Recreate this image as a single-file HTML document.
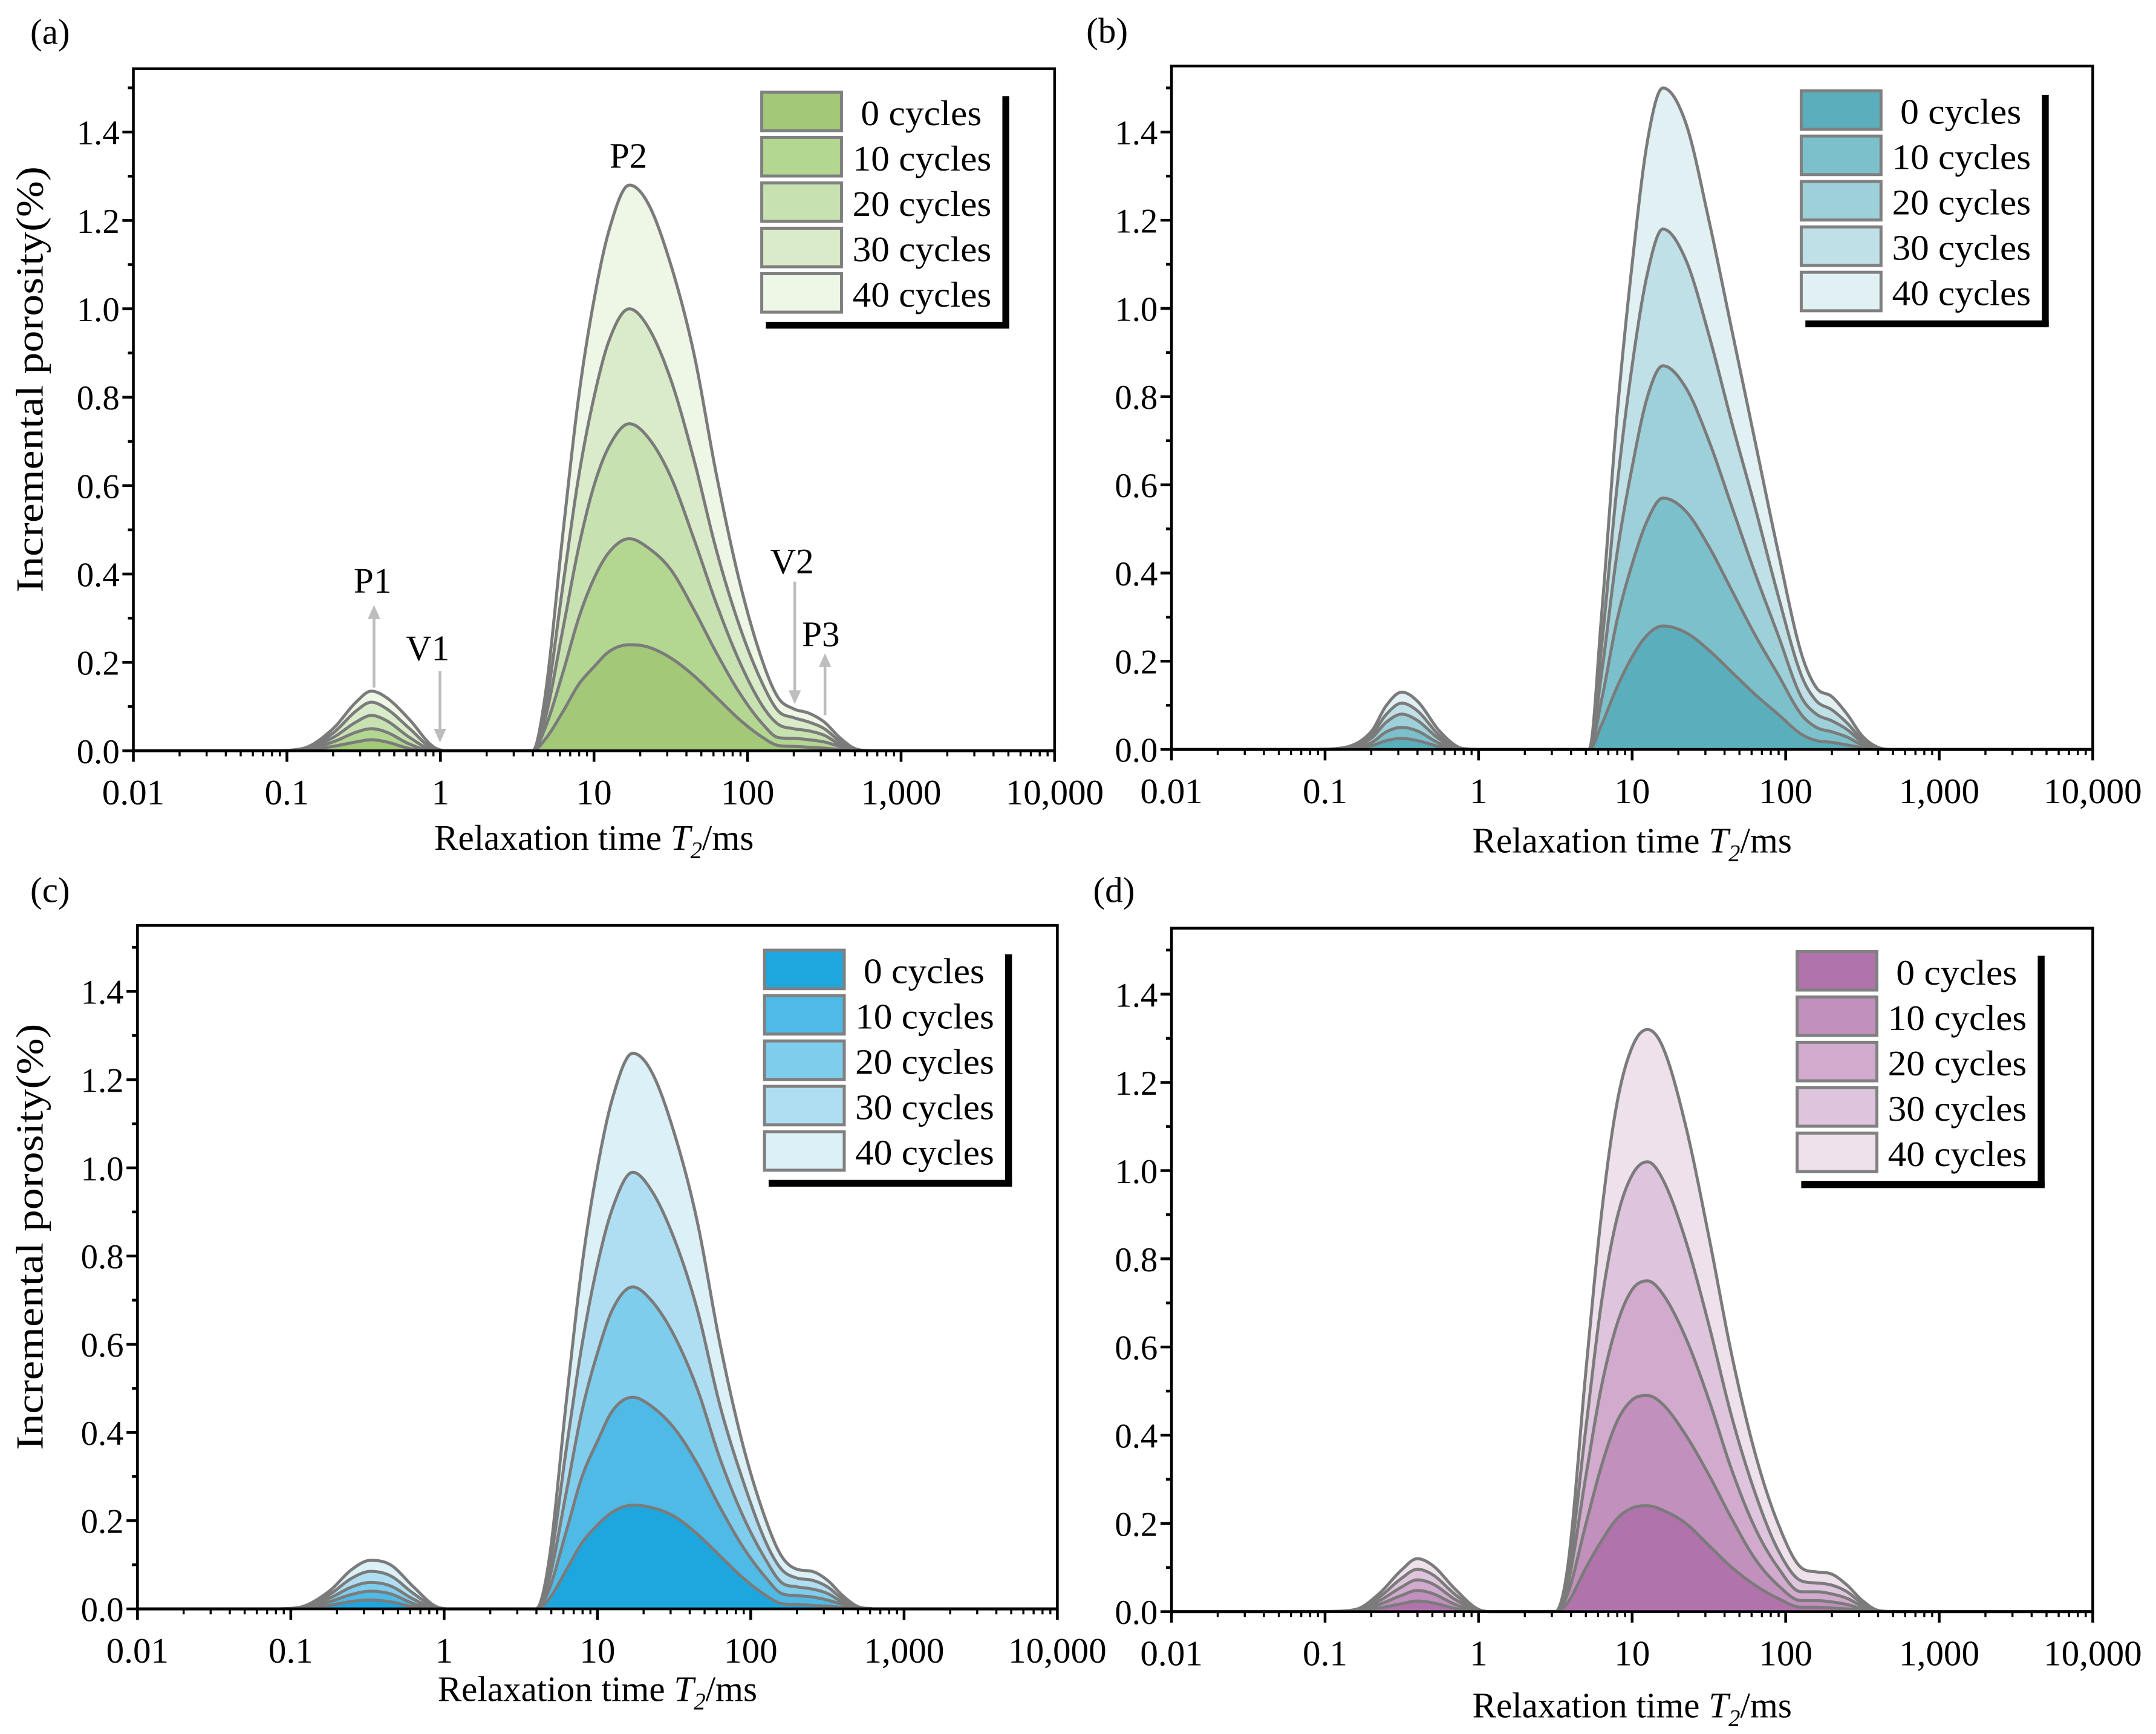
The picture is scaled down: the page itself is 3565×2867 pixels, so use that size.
<!DOCTYPE html>
<html><head><meta charset="utf-8">
<style>
html,body{margin:0;padding:0;background:#fff;}
svg{display:block;font-family:"Liberation Serif",serif;}
</style></head>
<body>
<svg id="fig" xmlns="http://www.w3.org/2000/svg" width="3565" height="2867" viewBox="0 0 1568 1261" preserveAspectRatio="none"></svg>
<script>
// ---- data (log10 of T2 in ms grid, incremental porosity %) ----
const gridP1A = [-1.1,-0.9,-0.7,-0.55,-0.45,-0.35,-0.2,-0.05,0.05];
const gridP2A = [0.6,0.68,0.8,0.9,1.0,1.1,1.23,1.35,1.5,1.65,1.8,1.95,2.1,2.2,2.3,2.4,2.5,2.6,2.7,2.8];
const a40 = [0,0.005,0.05,0.11,0.135,0.12,0.07,0.01,0, 0,0.12,0.5,0.8,1.02,1.18,1.28,1.24,1.1,0.9,0.62,0.38,0.2,0.12,0.095,0.085,0.065,0.03,0.005,0];
const a30 = [0,0.004,0.04,0.09,0.11,0.095,0.05,0.005,0, 0,0.09,0.38,0.62,0.8,0.93,1.0,0.96,0.84,0.66,0.45,0.28,0.15,0.09,0.075,0.065,0.05,0.022,0.004,0];
const a20 = [0,0.003,0.03,0.065,0.08,0.068,0.03,0.002,0, 0,0.07,0.28,0.46,0.6,0.69,0.74,0.71,0.62,0.48,0.33,0.2,0.1,0.06,0.05,0.045,0.035,0.015,0.003,0];
const a10 = [0,0.002,0.02,0.042,0.05,0.042,0.015,0,0, 0,0.05,0.18,0.3,0.39,0.45,0.48,0.46,0.41,0.32,0.22,0.13,0.06,0.03,0.028,0.025,0.02,0.01,0.002,0];
const a0  = [0,0.001,0.01,0.02,0.025,0.02,0.005,0,0, 0,0.025,0.09,0.15,0.19,0.225,0.24,0.235,0.21,0.17,0.12,0.07,0.03,0.012,0.01,0.008,0.006,0.003,0,0];

const gridP1B = [-1.1,-0.9,-0.7,-0.6,-0.5,-0.4,-0.25,-0.1,0.05];
const gridP2B = [0.6,0.72,0.8,0.9,1.0,1.1,1.2,1.35,1.5,1.65,1.8,1.95,2.1,2.2,2.3,2.4,2.5,2.6,2.7,2.8];
const b40 = [0,0.003,0.04,0.1,0.13,0.11,0.04,0.002,0, 0,0,0.3,0.75,1.1,1.38,1.5,1.42,1.2,0.95,0.7,0.45,0.22,0.14,0.12,0.08,0.03,0.005,0,0];
const b30 = [0,0.002,0.032,0.08,0.105,0.088,0.03,0.001,0, 0,0,0.23,0.59,0.87,1.08,1.18,1.11,0.94,0.74,0.55,0.35,0.17,0.11,0.09,0.06,0.022,0.004,0,0];
const b20 = [0,0.002,0.025,0.062,0.08,0.066,0.022,0,0, 0,0,0.17,0.44,0.64,0.8,0.87,0.82,0.7,0.55,0.4,0.26,0.12,0.08,0.065,0.045,0.016,0.003,0,0];
const b10 = [0,0.001,0.015,0.04,0.05,0.042,0.013,0,0, 0,0,0.11,0.29,0.42,0.52,0.57,0.54,0.46,0.36,0.26,0.17,0.08,0.05,0.04,0.028,0.01,0.002,0,0];
const b0  = [0,0,0.008,0.02,0.025,0.02,0.006,0,0, 0,0,0.055,0.14,0.21,0.26,0.28,0.265,0.225,0.175,0.125,0.08,0.035,0.02,0.016,0.01,0.004,0,0,0];

const gridP1C = [-1.1,-0.95,-0.75,-0.6,-0.48,-0.35,-0.2,-0.05,0.05];
const gridP2C = [0.6,0.68,0.8,0.9,1.0,1.1,1.23,1.35,1.5,1.65,1.8,1.95,2.1,2.2,2.3,2.4,2.5,2.6,2.7,2.8];
const c40 = [0,0.003,0.04,0.09,0.11,0.1,0.05,0.005,0, 0,0.1,0.48,0.78,1.0,1.16,1.26,1.22,1.08,0.88,0.6,0.37,0.2,0.12,0.09,0.085,0.065,0.03,0.005,0];
const c30 = [0,0.002,0.032,0.07,0.085,0.075,0.035,0.003,0, 0,0.08,0.37,0.6,0.78,0.91,0.99,0.95,0.84,0.68,0.46,0.29,0.15,0.09,0.07,0.065,0.05,0.022,0.004,0];
const c20 = [0,0.002,0.024,0.05,0.06,0.052,0.022,0.001,0, 0,0.06,0.27,0.45,0.58,0.68,0.73,0.7,0.62,0.5,0.34,0.21,0.11,0.06,0.05,0.045,0.035,0.015,0.003,0];
const c10 = [0,0.001,0.016,0.033,0.04,0.034,0.012,0,0, 0,0.04,0.18,0.3,0.38,0.45,0.48,0.46,0.41,0.33,0.23,0.14,0.07,0.035,0.03,0.027,0.02,0.01,0.002,0];
const c0  = [0,0.001,0.008,0.017,0.02,0.016,0.005,0,0, 0,0.02,0.09,0.15,0.19,0.22,0.235,0.23,0.21,0.17,0.12,0.07,0.03,0.012,0.01,0.008,0.006,0.003,0,0];

const gridP1D = [-1.0,-0.8,-0.65,-0.5,-0.4,-0.3,-0.15,0,0.1];
const gridP2D = [0.5,0.58,0.7,0.8,0.9,1.0,1.1,1.2,1.35,1.5,1.65,1.8,1.95,2.1,2.2,2.3,2.4,2.5,2.6,2.7];
const d40 = [0,0.005,0.04,0.095,0.12,0.105,0.05,0.005,0, 0,0.1,0.55,0.9,1.15,1.28,1.32,1.28,1.1,0.85,0.58,0.36,0.2,0.1,0.09,0.085,0.06,0.025,0.003,0];
const d30 = [0,0.004,0.032,0.076,0.096,0.084,0.038,0.003,0, 0,0.08,0.42,0.7,0.89,0.99,1.02,0.98,0.84,0.65,0.44,0.27,0.14,0.07,0.065,0.06,0.045,0.018,0.002,0];
const d20 = [0,0.003,0.024,0.056,0.072,0.063,0.027,0.002,0, 0,0.06,0.31,0.51,0.65,0.73,0.75,0.72,0.62,0.48,0.32,0.19,0.1,0.045,0.045,0.04,0.03,0.012,0.001,0];
const d10 = [0,0.002,0.016,0.037,0.048,0.041,0.016,0.001,0, 0,0.04,0.2,0.33,0.43,0.48,0.49,0.47,0.4,0.31,0.21,0.12,0.06,0.025,0.025,0.022,0.016,0.006,0,0];
const d0  = [0,0.001,0.008,0.018,0.024,0.02,0.007,0,0, 0,0.02,0.1,0.16,0.21,0.235,0.24,0.23,0.2,0.15,0.1,0.06,0.03,0.01,0.01,0.008,0.006,0.002,0,0];

const legendLabels = ["0 cycles","10 cycles","20 cycles","30 cycles","40 cycles"];
const xTickLabels = ["0.01","0.1","1","10","100","1,000","10,000"];
const yTickLabels = ["0.0","0.2","0.4","0.6","0.8","1.0","1.2","1.4"];

const NS = "http://www.w3.org/2000/svg";
const svg = document.getElementById('fig');
function mk(tag, attrs, parent){
  const e = document.createElementNS(NS, tag);
  for (const k in attrs) e.setAttribute(k, attrs[k]);
  (parent||svg).appendChild(e);
  return e;
}
function monotone(xs, ys, n){
  const m = xs.length, d = [], t = [];
  for (let i=0;i<m-1;i++) d.push((ys[i+1]-ys[i])/(xs[i+1]-xs[i]));
  t[0]=d[0]; t[m-1]=d[m-2];
  for (let i=1;i<m-1;i++){ t[i] = (d[i-1]*d[i]<=0)?0:(d[i-1]+d[i])/2; }
  for (let i=0;i<m-1;i++){
    if (d[i]===0){t[i]=0;t[i+1]=0;continue;}
    const a=t[i]/d[i], b=t[i+1]/d[i], s=a*a+b*b;
    if (s>9){const tau=3/Math.sqrt(s); t[i]=tau*a*d[i]; t[i+1]=tau*b*d[i];}
  }
  const out=[];
  for (let i=0;i<m-1;i++){
    const h=xs[i+1]-xs[i];
    for (let k=0;k<n;k++){
      const u=k/n, h00=2*u*u*u-3*u*u+1, h10=u*u*u-2*u*u+u, h01=-2*u*u*u+3*u*u, h11=u*u*u-u*u;
      out.push([xs[i]+u*h, Math.max(0,h00*ys[i]+h10*h*t[i]+h01*ys[i+1]+h11*h*t[i+1])]);
    }
  }
  out.push([xs[m-1], ys[m-1]]);
  return out;
}

const panels = [
  {id:"a", L:97, R:767, y0:546, y14:96, top:50, grid1:gridP1A, grid2:gridP2A, series:[a0,a10,a20,a30,a40],
   colors:["#a2c878","#b3d691","#c7e2b0","#d9ebc8","#eef6e5"], lgX:553, lgY:66, ylabel:true, xtitleY:618, label:[22,32]},
  {id:"b", L:852, R:1522, y0:545, y14:96, top:48, grid1:gridP1B, grid2:gridP2B, series:[b0,b10,b20,b30,b40],
   colors:["#5bafbc","#7cc0cb","#9dd0d9","#bfe0e6","#e0f0f3"], lgX:1309, lgY:65, ylabel:false, xtitleY:620, label:[790,31]},
  {id:"c", L:100, R:769, y0:1170, y14:721, top:673, grid1:gridP1C, grid2:gridP2C, series:[c0,c10,c20,c30,c40],
   colors:["#1ea7df","#4fbae6","#7fcdec","#afdef2","#dcf0f8"], lgX:555, lgY:690, ylabel:true, xtitleY:1237, label:[22,656]},
  {id:"d", L:852, R:1522, y0:1172, y14:723, top:675, grid1:gridP1D, grid2:gridP2D, series:[d0,d10,d20,d30,d40],
   colors:["#b173ab","#c290bd","#d1aacd","#dec4dc","#eee1ec"], lgX:1306, lgY:691, ylabel:false, xtitleY:1249, label:[795,656]}
];
const legendLens = [88,101,101,101,101];

panels.forEach(p=>{
  const g = mk('g',{});
  
  
  const xs = v => p.L + (v+2)/6*(p.R-p.L);
  const ys = v => p.y0 - v*(p.y0-p.y14)/1.4;
  const grid = p.grid1.concat(p.grid2);
  for (let s=4;s>=0;s--){
    const pts = monotone(grid, p.series[s], 10);
    let dstr = "M"+xs(-2)+","+ys(0)+" L"+xs(grid[0])+","+ys(0);
    pts.forEach(q=>{dstr+=" L"+xs(q[0]).toFixed(2)+","+ys(q[1]).toFixed(2);});
    dstr += " L"+xs(4)+","+ys(0)+" Z";
    const a = mk('path',{d:dstr, fill:p.colors[s], stroke:'none'}, g);
    
    
  }
  for (let s=4;s>=0;s--){
    const pts = monotone(grid, p.series[s], 10);
    let dstr = "M"+xs(-2)+","+ys(0);
    pts.forEach(q=>{dstr+=" L"+xs(q[0]).toFixed(2)+","+ys(q[1]).toFixed(2);});
    dstr += " L"+xs(4)+","+ys(0);
    const l = mk('path',{d:dstr, fill:'none', stroke:'#7b7b7b','stroke-width':2.2,'stroke-linejoin':'round'}, g);
    
    
  }
  const fr = mk('rect',{x:p.L, y:p.top, width:p.R-p.L, height:p.y0-p.top, fill:'none', stroke:'#000','stroke-width':2}, g);
  
  
  for (let dcd=-2; dcd<=4; dcd++){
    const x = xs(dcd);
    mk('line',{x1:x,y1:p.y0,x2:x,y2:p.y0+8,stroke:'#000','stroke-width':2},g);
    const lab = xTickLabels[dcd+2];
    const t = mk('text',{x:x,y:p.y0+39,'font-size':26,'text-anchor':'middle'},g);
    t.textContent = lab;
    
    
    if (dcd<4) for (let k=2;k<=9;k++){
      const xm = xs(dcd+Math.log10(k));
      mk('line',{x1:xm,y1:p.y0,x2:xm,y2:p.y0+4,stroke:'#000','stroke-width':1.5},g);
    }
  }
  for (let i=0;i<=15;i++){
    const v=i*0.1, y=ys(v);
    const major = i%2===0 && i<=14;
    mk('line',{x1:p.L,y1:y,x2:p.L-(major?8:4),y2:y,stroke:'#000','stroke-width':2},g);
    if (major){
      const t = mk('text',{x:p.L-10,y:y+9,'font-size':25,'text-anchor':'end'},g);
      t.textContent = yTickLabels[i/2];
      
      
    }
  }
  const xt = mk('text',{x:(p.L+p.R)/2,y:p.xtitleY,'font-size':26,'text-anchor':'middle'},g);
  xt.innerHTML = 'Relaxation time <tspan font-style="italic">T</tspan><tspan font-style="italic" font-size="17" dy="6">2</tspan><tspan dy="-6">/ms</tspan>';
  
  
  if (p.ylabel){
    const cy=(p.top+p.y0)/2-22;
    const yt = mk('text',{x:0,y:0,'font-size':28,'text-anchor':'middle',textLength:310,lengthAdjust:'spacingAndGlyphs',transform:'translate(31,'+cy+') rotate(-90)'},g);
    yt.textContent = 'Incremental porosity(%)';
    
    
  }
  const pl = mk('text',{x:p.label[0],y:p.label[1],'font-size':26},g);
  pl.textContent = '('+p.id+')';
  
  
  const lg = mk('g',{},g);
  
  
  mk('rect',{x:p.lgX+176,y:p.lgY+4,width:5,height:168,fill:'#000'},lg);
  mk('rect',{x:p.lgX+4,y:p.lgY+168,width:177,height:5,fill:'#000'},lg);
  for (let s=0;s<5;s++){
    const ry = p.lgY + s*33;
    const e = mk('g',{},lg);
    
    
    mk('rect',{x:p.lgX+1,y:ry+1,width:58,height:28,fill:p.colors[s],stroke:'#808080','stroke-width':2.2},e);
    const t = mk('text',{x:p.lgX+(s===0?73:67),y:ry+25,'font-size':26,textLength:legendLens[s],lengthAdjust:'spacingAndGlyphs'},e);
    t.textContent = legendLabels[s];
  }
});

const arrowColor = '#bdbdbd';
const ann = mk('g',{});


function arrow(x,y1,y2){
  mk('line',{x1:x,y1:y1,x2:x,y2:y2+(y2>y1?-8:8),stroke:arrowColor,'stroke-width':2},ann);
  const dir = y2>y1?-1:1;
  mk('polygon',{points:(x-4.5)+","+(y2+dir*10)+" "+(x+4.5)+","+(y2+dir*10)+" "+x+","+y2,fill:arrowColor},ann);
}
const annTexts = [["P2",457,122],["P1",271,431],["V1",311,480],["V2",576,417],["P3",597,470]];
annTexts.forEach(a=>{const t=mk('text',{x:a[1],y:a[2],'font-size':26,'text-anchor':'middle'},ann); t.textContent=a[0];});
arrow(272,500,440);
arrow(320,488,540);
arrow(578,423,512);
arrow(600,520,475);
</script>
</body></html>
